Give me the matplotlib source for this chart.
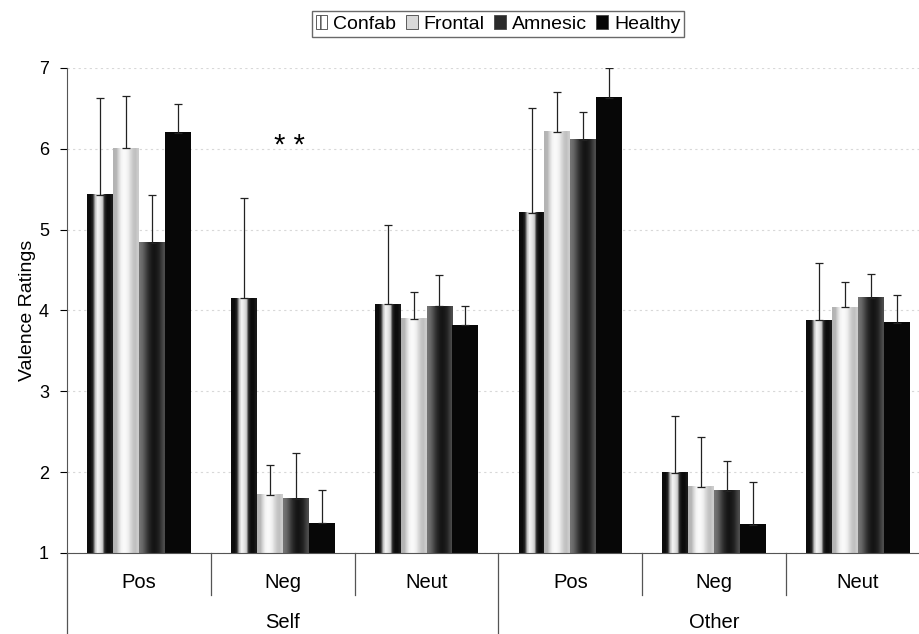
import matplotlib.pyplot as plt
import numpy as np

plt.rcParams['font.family'] = ['Liberation Sans', 'DejaVu Sans']

categories = ['Pos', 'Neg', 'Neut', 'Pos', 'Neg', 'Neut']
groups = ['Self', 'Other']
series = ['Confab', 'Frontal', 'Amnesic', 'Healthy']

# means
confab = [5.43, 4.15, 4.08, 5.21, 1.99, 3.88]
frontal = [6.01, 1.72, 3.90, 6.21, 1.82, 4.04]
amnesic = [4.84, 1.67, 4.05, 6.11, 1.77, 4.16]
healthy = [6.20, 1.37, 3.82, 6.63, 1.35, 3.85]

# tops of the (upper only) error bars
confab_err = [6.63, 5.39, 5.06, 6.51, 2.70, 4.59]
frontal_err = [6.65, 2.09, 4.23, 6.70, 2.44, 4.35]
amnesic_err = [5.43, 2.24, 4.44, 6.46, 2.14, 4.45]
healthy_err = [6.55, 1.78, 4.06, 7.00, 1.88, 4.19]

means = [confab, frontal, amnesic, healthy]
tops = [confab_err, frontal_err, amnesic_err, healthy_err]

# shading across each bar (0 = black, 1 = white) to mimic the cylinder look
shades = [
    [0.05, 0.05, 0.15, 0.75, 0.95, 0.9, 0.8, 0.15, 0.05, 0.05, 0.1],
    [0.7, 0.72, 0.85, 0.95, 0.98, 0.97, 0.93, 0.85, 0.78, 0.75, 0.8],
    [0.45, 0.4, 0.32, 0.22, 0.15, 0.1, 0.08, 0.1, 0.14, 0.22, 0.3],
    [0.03, 0.03, 0.03, 0.03],
]
legend_colors = ['white', '#d9d9d9', '#2a2a2a', '#050505']

fig = plt.figure(figsize=(9.19, 6.34), dpi=100)
ax = fig.add_axes([0.0729, 0.1278, 0.939, 0.765])

x = np.arange(len(categories))
width = 0.18
for i, (vals, err, sh) in enumerate(zip(means, tops, shades)):
    pos = x + (i - 1.5) * width
    bars = ax.bar(pos, np.array(vals) - 1, width, bottom=1, color='none',
                  edgecolor='none', zorder=2)
    for b in bars:
        x0 = b.get_x()
        ax.imshow(np.array([sh]), cmap='gray', vmin=0, vmax=1, aspect='auto',
                  interpolation='bilinear', zorder=2,
                  extent=(x0, x0 + b.get_width(), 1, 1 + b.get_height()))
    lower = np.zeros(len(vals))
    upper = np.array(err) - np.array(vals)
    ax.errorbar(pos, vals, yerr=[lower, upper], fmt='none', ecolor='#222222',
                elinewidth=0.9, capsize=3, capthick=0.9, zorder=3)

ax.set_xlim(-0.5, 5.5)
ax.set_ylim(1, 7)
ax.set_yticks(range(1, 8))
ax.yaxis.grid(True, linestyle=(0, (2, 3)), color='#d8d8d8', linewidth=0.8, zorder=0)
ax.set_axisbelow(True)
ax.tick_params(axis='y', direction='out', length=5, labelsize=13, pad=8)
ax.set_ylabel('Valence Ratings', fontsize=14, labelpad=2)
ax.set_xticks([])
ax.spines['top'].set_visible(False)
ax.spines['right'].set_visible(False)
ax.spines['left'].set_color('#555555')
ax.spines['bottom'].set_color('#555555')

# two-level category axis below the plot
trans = ax.get_xaxis_transform()
for xs in [0.5, 1.5, 3.5, 4.5, 5.5]:
    ax.plot([xs, xs], [0, -0.087], transform=trans, color='#555555',
            linewidth=0.9, clip_on=False)
for xs in [-0.5, 2.5]:
    ax.plot([xs, xs], [0, -0.2], transform=trans, color='#555555',
            linewidth=0.9, clip_on=False)
for xi, lab in zip(x, categories):
    ax.text(xi, -0.06, lab, transform=trans, ha='center', va='center', fontsize=14.5)
for gi, g in enumerate(groups):
    ax.text(1 + 3 * gi, -0.143, g, transform=trans, ha='center', va='center',
            fontsize=14.5)

ax.text(1.05, 6.03, '* *', ha='center', va='center', fontsize=21)

handles = [plt.Rectangle((0, 0), 1, 1, facecolor=c, edgecolor='#444444',
                         linewidth=0.6, hatch=h)
           for c, h in zip(legend_colors, ['||', None, None, None])]
fig.legend(handles, series, loc='upper center', bbox_to_anchor=(0.542, 0.988),
           ncol=4, frameon=True, fancybox=False, edgecolor='#444444',
           fontsize=14, handlelength=0.6, handleheight=0.7, handletextpad=0.3,
           columnspacing=0.5, borderpad=0.2, borderaxespad=0.2)

fig.savefig('out.png', dpi=100)
